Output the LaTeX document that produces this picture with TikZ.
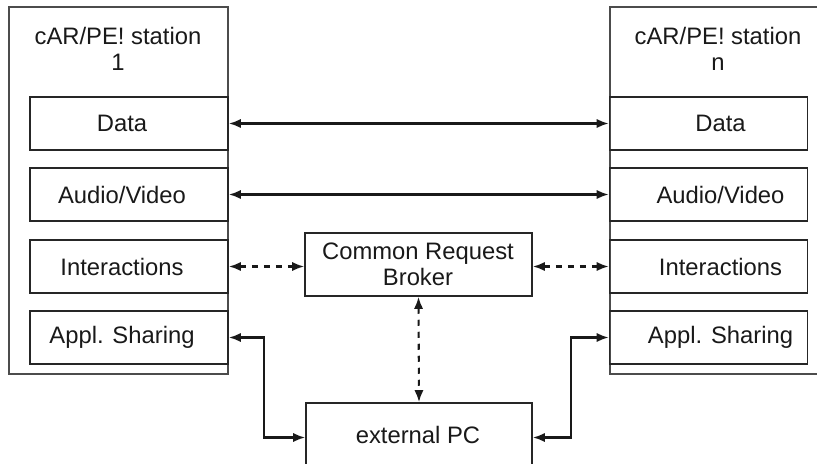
\documentclass[tikz,border=0pt]{standalone}
\usepackage{fontspec}
\setmainfont{Liberation Sans}
\usetikzlibrary{arrows.meta,calc}
\begin{document}
\begin{tikzpicture}[x=0.5pt,y=-0.5pt,
  frame/.style={draw=black!70, line width=0.8pt},
  part/.style={draw=black!85, line width=0.8pt, minimum width=99pt, minimum height=26.5pt, inner sep=0pt},
  lbl/.style={font=\fontsize{11.9}{13}\selectfont, inner sep=0pt, align=center, text=black!90},
  tip/.tip={Latex[length=6pt,width=4.6pt]},
  link/.style={line width=1.05pt, draw=black!90, tip-tip},
  dlink/.style={link, dash pattern=on 3pt off 3pt}]
\clip (0,0) rectangle (817,464);

% station 1
\draw[frame] (9,7) rectangle (228,374);
\node[lbl] (t1) at (118,49) {cAR/PE! station\\1};
\node[part, label={[lbl,xshift=-3.5pt]center:Data}]          (d1) at (129,123.5) {};
\node[part, label={[lbl,xshift=-3.5pt]center:Audio/Video}]   (v1) at (129,194.5) {};
\node[part, label={[lbl,xshift=-3.5pt]center:Interactions}]  (i1) at (129,266.5) {};
\node[part, label={[lbl,xshift=-3.5pt]center:Appl. Sharing}] (a1) at (129,337.5) {};

% station n
\draw[frame] (610,7) rectangle (840,374);
\node[lbl] (tn) at (718,49) {cAR/PE! station\\n};
\node[part, label={[lbl,xshift=6pt]center:Data}]          (dn) at (708.5,123.5) {};
\node[part, label={[lbl,xshift=6pt]center:Audio/Video}]   (vn) at (708.5,194.5) {};
\node[part, label={[lbl,xshift=6pt]center:Interactions}]  (in) at (708.5,266.5) {};
\node[part, label={[lbl,xshift=6pt]center:Appl. Sharing}] (an) at (708.5,337.5) {};

% broker and external PC
\node[draw=black!85, line width=0.8pt, minimum width=113.5pt, minimum height=31.5pt, inner sep=0pt]
  (brk) at (418.5,264.5) {};
\node[lbl] (brkt) at (418,264.5) {Common Request\\Broker};
\node[draw=black!85, line width=0.8pt, minimum width=113pt, minimum height=34.5pt, inner sep=0pt]
  (ext) at (419,437.5) {};
\node[lbl] (extt) at (418,435) {external PC};

\coordinate (k1) at (264,0);
\coordinate (k2) at (571,0);

% connections
\draw[link] (d1.east) -- (dn.west);
\draw[link] (v1.east) -- (vn.west);
\draw[dlink] (i1.east) -- (i1.east -| brk.west);
\draw[dlink] (in.west -| brk.east) -- (in.west);
\draw[dlink] (brk.south) -- (ext.north);
\draw[link] (a1.east) -- (a1.east -| k1) |- (ext.west);
\draw[link] (an.west) -- (an.west -| k2) |- (ext.east);
\end{tikzpicture}
\end{document}
